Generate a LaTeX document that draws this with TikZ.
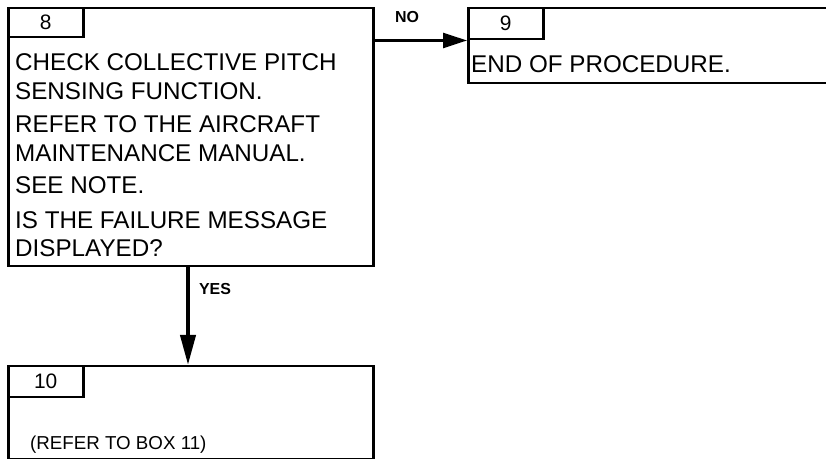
\documentclass[tikz,border=0pt]{standalone}
\usepackage{fontspec}
\setmainfont{Liberation Sans}
\usetikzlibrary{positioning,arrows.meta}

\begin{document}
\begin{tikzpicture}[x=1bp, y=1bp,
    box/.style={draw, line width=2.5bp, rectangle, inner sep=0pt, anchor=north west},
    tab/.style={draw, line width=2.5bp, rectangle, inner sep=0pt, anchor=north west, minimum width=75bp, font=\fontsize{21}{24}\selectfont},
    txt/.style={anchor=base west, inner sep=0pt, align=left, font=\fontsize{24.3}{29}\selectfont},
    lbl/.style={inner sep=0pt, font=\fontsize{16}{18}\selectfont\bfseries}]
    \useasboundingbox (0,0) rectangle (826,459);

    % box 8
    \node[box, minimum width=365bp, minimum height=258bp] (box8) at (7,452) {};
    \node[tab, minimum height=29bp] (tab8) at (box8.north west) {8};
    \node[txt] (text8) at (15,202)
        {CHECK COLLECTIVE PITCH\\SENSING FUNCTION.\\[4bp]
         REFER TO THE AIRCRAFT\\MAINTENANCE MANUAL.\\[3bp]
         SEE NOTE.\\[6bp]
         IS THE FAILURE MESSAGE\\DISPLAYED?};

    % box 9
    \node[box, minimum width=370bp, minimum height=75bp] (box9) at (467,452) {};
    \node[tab, minimum height=31bp] (tab9) at (box9.north west) {9};
    \node[txt] (text9) at (471,386) {END OF PROCEDURE.};

    % box 10
    \node[box, minimum width=365bp, minimum height=93bp] (box10) at (7,94) {};
    \node[tab, minimum height=31bp] (tab10) at (box10.north west) {10};
    \node[txt, font=\fontsize{18.8}{22}\selectfont] (text10) at (30,9) {(REFER TO BOX 11)};

    % connectors
    \coordinate (no) at (box8.east |- tab9.south);
    \draw[line width=2.5bp, -{Triangle[length=24bp, width=15bp]}] (no) -- (tab9.south west);
    \node[lbl] (nolbl) at (407,442) {NO};

    \draw[line width=4bp, -{Triangle[length=30bp, width=15bp]}] (box8.south -| 188,0) -- (box10.north -| 188,0);
    \node[lbl] (yeslbl) at (215,170) {YES};
\end{tikzpicture}
\end{document}
